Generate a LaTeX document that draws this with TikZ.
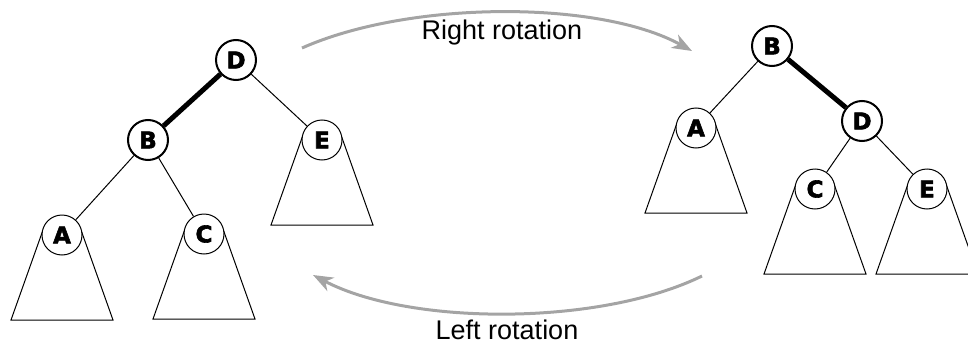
\documentclass[tikz,border=0pt]{standalone}
\usepackage{fontspec}
\setmainfont{Liberation Sans}
\newfontfamily\keyfont{DejaVu Sans}[BoldFeatures={FakeBold=2.5}]
\usepackage{xcolor}
\definecolor{ArrowGray}{HTML}{A4A4A4}
\usetikzlibrary{calc,backgrounds,arrows.meta}

\tikzset{
  keynode/.style={circle, draw, fill=white, minimum size=40pt, inner sep=0pt,
    font=\keyfont\bfseries\fontsize{23}{23}\selectfont},
  pivot/.style={keynode, line width=2pt},
  leaf/.style={keynode, line width=1pt},
  link/.style={line width=1pt},
  heavylink/.style={line width=5pt},
  rotarrow/.style={ArrowGray, line width=3pt,
    -{Stealth[length=20pt,width=15pt,inset=6pt]}},
  rotlabel/.style={font=\fontsize{27}{27}\selectfont, anchor=base}
}
% subtree hanging below a leaf key
\newcommand{\subtree}[1]{%
  \draw[link] ($(#1)+(-19,-5)$) -- ($(#1)+(-51,85)$) -- ($(#1)+(51,85)$)
    -- ($(#1)+(19,-5)$);}

\begin{document}
\begin{tikzpicture}[x=1pt, y=-1pt]
  \useasboundingbox (0,0) rectangle (968,345);

  % tree before the right rotation
  \node[pivot] (D1) at (236,60) {D};
  \node[pivot] (B1) at (148,140) {B};
  \node[leaf] (E1) at (322,140) {E};
  \node[leaf] (A1) at (62,235) {A};
  \node[leaf] (C1) at (204,234) {C};

  % tree after the right rotation
  \node[pivot] (B2) at (772,46) {B};
  \node[leaf] (A2) at (696,128) {A};
  \node[pivot] (D2) at (862,121) {D};
  \node[leaf] (C2) at (815,189) {C};
  \node[leaf] (E2) at (927,189) {E};

  \begin{scope}[on background layer]
    \subtree{A1} \subtree{C1} \subtree{E1}
    \subtree{A2} \subtree{C2} \subtree{E2}
    \draw[heavylink] (D1) -- (B1);
    \draw[link] (D1) -- (E1);
    \draw[link] (B1) -- (A1);
    \draw[link] (B1) -- (C1);
    \draw[heavylink] (B2) -- (D2);
    \draw[link] (B2) -- (A2);
    \draw[link] (D2) -- (C2);
    \draw[link] (D2) -- (E2);
  \end{scope}

  % rotation arrows
  \coordinate (rstart) at (302,48);
  \coordinate (rend) at (692,51);
  \coordinate (lstart) at (702,276);
  \coordinate (lend) at (313,275);
  \draw[rotarrow] (rstart) .. controls (410,0) and (600,0) .. (rend);
  \draw[rotarrow] (lstart) .. controls (600,326) and (410,326) .. (lend);
  \node[rotlabel] (rlabel) at (502,40) {Right rotation};
  \node[rotlabel] (llabel) at (507,339) {Left rotation};
\end{tikzpicture}
\end{document}
